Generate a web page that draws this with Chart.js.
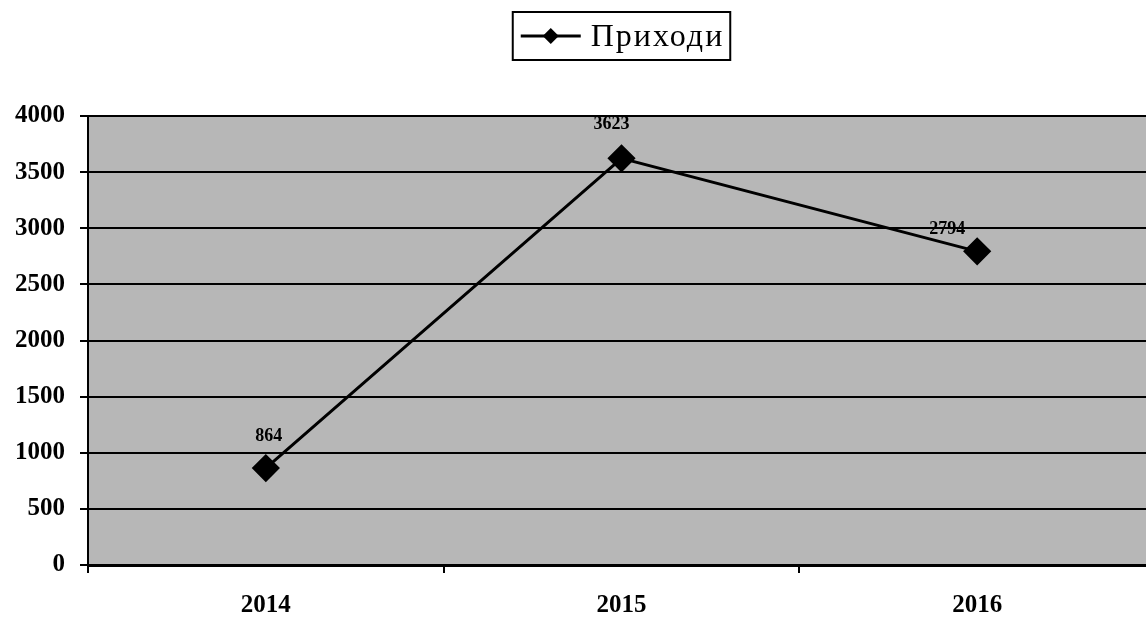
<!DOCTYPE html>
<html>
<head>
<meta charset="utf-8">
<script src="https://cdn.jsdelivr.net/npm/chart.js@4/dist/chart.umd.min.js"></script>
<style>
  html, body { margin: 0; padding: 0; background: #fff; overflow: hidden; }
  #wrap { width: 1170px; height: 619px; }
  #chart { display: block; }
</style>
</head>
<body>
<div id="wrap"><canvas id="chart" width="1170" height="619"></canvas></div>
<script>
// --- Data ---
const years = ['2014', '2015', '2016'];
const incomes = [864, 3623, 2794];
const seriesName = 'Приходи';
const yTicks = [0, 500, 1000, 1500, 2000, 2500, 3000, 3500, 4000];

const SERIF = '"Liberation Serif", "Times New Roman", serif';

// gray plot background
const plotBg = {
    id: 'plotBg',
    beforeDraw(chart) {
        const { ctx, chartArea: a } = chart;
        ctx.save();
        ctx.fillStyle = '#b7b7b7';
        ctx.fillRect(a.left, a.top, a.right - a.left, a.bottom - a.top);
        ctx.restore();
    }
};

// value labels above the points
const labelOffsets = [[3, -32], [-10, -34], [-30, -22]];
const valueLabels = {
    id: 'valueLabels',
    afterDatasetsDraw(chart) {
        const { ctx } = chart;
        const meta = chart.getDatasetMeta(0);
        ctx.save();
        ctx.font = 'bold 18px ' + SERIF;
        ctx.fillStyle = '#000';
        ctx.textAlign = 'center';
        ctx.textBaseline = 'middle';
        meta.data.forEach((pt, i) => {
            const off = labelOffsets[i] || [0, -30];
            ctx.fillText(String(incomes[i]), pt.x + off[0], pt.y + off[1]);
        });
        ctx.restore();
    }
};

// boxed legend, centred over the plot area
const boxLegend = {
    id: 'boxLegend',
    afterDraw(chart) {
        const { ctx, chartArea: a } = chart;
        ctx.save();
        ctx.font = '32px ' + SERIF;
        ctx.letterSpacing = '2px';
        const textW = ctx.measureText(seriesName).width;
        const boxW = 8 + 60 + 10 + textW + 6;
        const boxL = (a.left + a.right) / 2 - boxW / 2;
        const boxT = 12, boxH = 48;
        ctx.strokeStyle = '#000';
        ctx.lineWidth = 2;
        ctx.strokeRect(boxL, boxT, boxW, boxH);

        const cy = boxT + boxH / 2;
        ctx.lineWidth = 3;
        ctx.beginPath();
        ctx.moveTo(boxL + 8, cy);
        ctx.lineTo(boxL + 68, cy);
        ctx.stroke();
        const cx = boxL + 38, r = 8;
        ctx.fillStyle = '#000';
        ctx.beginPath();
        ctx.moveTo(cx, cy - r);
        ctx.lineTo(cx + r, cy);
        ctx.lineTo(cx, cy + r);
        ctx.lineTo(cx - r, cy);
        ctx.closePath();
        ctx.fill();

        ctx.textAlign = 'left';
        ctx.textBaseline = 'middle';
        ctx.fillText(seriesName, boxL + 78, cy + 2);
        ctx.restore();
    }
};

const ctx = document.getElementById('chart').getContext('2d');
new Chart(ctx, {
    type: 'line',
    data: {
        labels: years,
        datasets: [{
            label: seriesName,
            data: incomes,
            borderColor: '#000',
            borderWidth: 3,
            backgroundColor: '#000',
            pointStyle: 'rectRot',
            pointRadius: 12,
            pointBackgroundColor: '#000',
            pointBorderColor: '#000',
            tension: 0
        }]
    },
    options: {
        responsive: false,
        animation: false,
        layout: { padding: { top: 116, right: 5, bottom: 0, left: 0 } },
        plugins: {
            legend: { display: false },
            tooltip: { enabled: false }
        },
        scales: {
            x: {
                offset: true,
                grid: { offset: true, drawOnChartArea: false, drawTicks: true, tickLength: 8, color: '#000', lineWidth: 2 },
                border: { color: '#000', width: 3 },
                ticks: { color: '#000', font: { family: SERIF, size: 25, weight: 'bold' }, padding: 18 },
                afterFit(scale) {
                    scale.height = 54;
                    scale.paddingLeft = 0;
                    scale.paddingRight = 0;
                }
            },
            y: {
                min: 0,
                max: 4000,
                afterBuildTicks(scale) { scale.ticks = yTicks.map(v => ({ value: v })); },
                grid: { color: '#000', lineWidth: 2, tickLength: 8 },
                border: { color: '#000', width: 2 },
                ticks: {
                    color: '#000',
                    font: { family: SERIF, size: 25, weight: 'bold' },
                    padding: 15,
                    callback: v => String(v)
                },
                afterFit(scale) { scale.width = 88; }
            }
        }
    },
    plugins: [plotBg, valueLabels, boxLegend]
});
</script>
</body>
</html>
